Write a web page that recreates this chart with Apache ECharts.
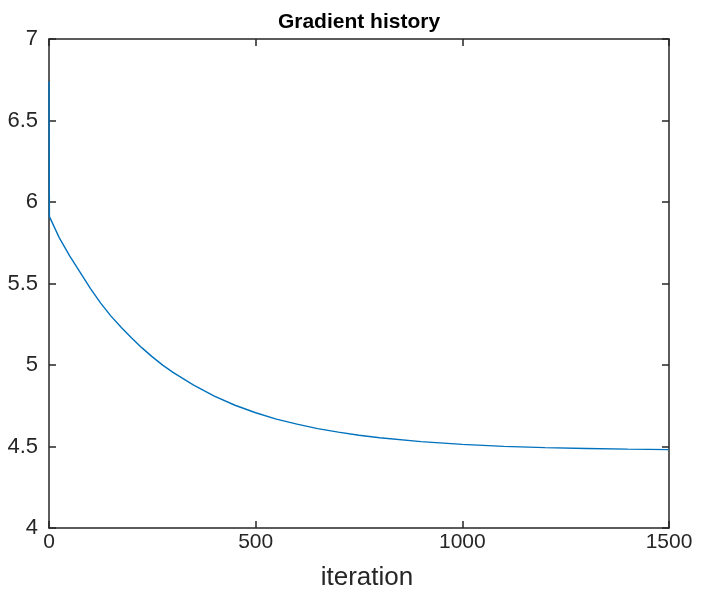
<!DOCTYPE html>
<html>
<head>
<meta charset="utf-8">
<script src="https://cdn.jsdelivr.net/npm/echarts@6/dist/echarts.min.js"></script>
<style>
html,body{margin:0;padding:0;background:#fff;}
#chart{width:703px;height:591px;}
</style>
</head>
<body>
<div id="chart"></div>
<script>
const chartTitle = 'Gradient history';
const xAxisName = 'iteration';
const iterations = [0, 1, 25, 50, 75, 100, 125, 150, 175, 200, 225, 250, 275, 300, 350, 400, 450, 500, 550, 600, 650, 700, 750, 800, 900, 1000, 1100, 1200, 1300, 1400, 1500];
const gradNorm = [6.74, 5.91, 5.78, 5.67, 5.57, 5.47, 5.38, 5.30, 5.23, 5.165, 5.105, 5.05, 4.999, 4.955, 4.876, 4.809, 4.753, 4.707, 4.668, 4.637, 4.610, 4.588, 4.569, 4.554, 4.530, 4.513, 4.501, 4.493, 4.488, 4.484, 4.481];
const xTicks = [0, 500, 1000, 1500];
const yTicks = [4, 4.5, 5, 5.5, 6, 6.5, 7];

const seriesData = iterations.map((x, i) => [x, gradNorm[i]]);
const axisColor = '#262626';
const font = 'Liberation Sans, Arial, Helvetica, sans-serif';

const chart = echarts.init(document.getElementById('chart'), null, {renderer: 'canvas'});
const baseX = {
  type: 'value',
  min: xTicks[0], max: xTicks[xTicks.length - 1], interval: 500,
  axisLine: {show: true, onZero: false, lineStyle: {color: axisColor, width: 1.5}},
  axisTick: {show: true, inside: true, length: 7, lineStyle: {color: axisColor, width: 1.5}},
  splitLine: {show: false}
};
const baseY = {
  type: 'value',
  min: yTicks[0], max: yTicks[yTicks.length - 1], interval: 0.5,
  axisLine: {show: true, onZero: false, lineStyle: {color: axisColor, width: 1.5}},
  axisTick: {show: true, inside: true, length: 7, lineStyle: {color: axisColor, width: 1.5}},
  splitLine: {show: false}
};
chart.setOption({
  animation: false,
  backgroundColor: '#ffffff',
  title: {
    text: chartTitle,
    left: 354, top: 7, textAlign: 'center',
    textStyle: {fontFamily: font, fontSize: 21, fontWeight: 'bold', color: '#000'}
  },
  grid: {left: 49, right: 34, top: 39, bottom: 63, containLabel: false, outerBoundsMode: 'none'},
  xAxis: [
    Object.assign({}, baseX, {
      position: 'bottom',
      name: xAxisName, nameLocation: 'middle', nameGap: 37,
      nameTextStyle: {fontFamily: font, fontSize: 26, color: '#262626', padding: [0, 0, 0, 16]},
      axisLabel: {show: true, margin: 4, fontFamily: font, fontSize: 21, color: '#262626',
        formatter: v => String(v)}
    }),
    Object.assign({}, baseX, {position: 'top', axisLabel: {show: false}})
  ],
  yAxis: [
    Object.assign({}, baseY, {
      position: 'left',
      axisLabel: {show: true, margin: 11, fontFamily: font, fontSize: 22, color: '#262626',
        formatter: v => String(v)}
    }),
    Object.assign({}, baseY, {position: 'right', axisLabel: {show: false}})
  ],
  series: [{
    type: 'line',
    data: seriesData,
    xAxisIndex: 0, yAxisIndex: 0,
    showSymbol: false,
    smooth: false,
    lineStyle: {color: '#0072BD', width: 1.4},
    z: 1
  }]
});
</script>
</body>
</html>
